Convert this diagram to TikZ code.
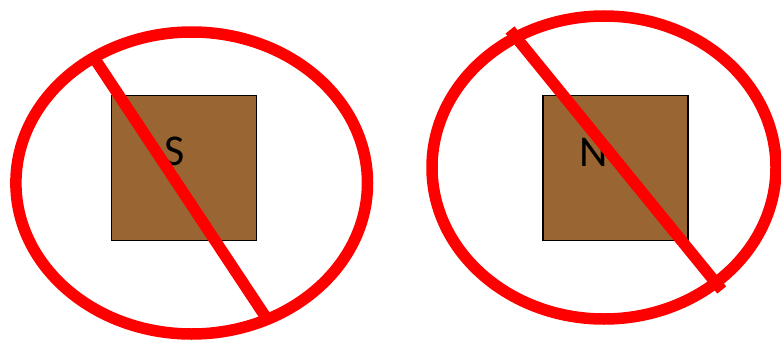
\documentclass[tikz,border=0pt]{standalone}
\usepackage{fontspec}
\setmainfont{Carlito}
\definecolor{magbrown}{HTML}{996633}
\definecolor{banred}{HTML}{FF0000}
\tikzset{
  magnet/.style={draw=black, line width=1.8pt, fill=magbrown, minimum width=145pt, minimum height=145pt, inner sep=0pt},
  pole/.style={font=\fontsize{44}{44}\selectfont, text=black, inner sep=0pt},
  banring/.style={draw=banred, line width=11.5pt},
  banbar/.style={draw=banred, line width=11.5pt, line cap=butt}
}
\begin{document}
\begin{tikzpicture}[x=1pt, y=-1pt]
  \useasboundingbox (0,0) rectangle (781,340);
  % left
  \draw[banring] (191.7,183) ellipse [x radius=175.8, y radius=151];
  \node[magnet] (sq1) at (184,168) {};
  \node[pole] (s) at (175,151) {S};
  \coordinate (l1a) at (95.5,60);
  \coordinate (l1b) at (269,322);
  \draw[banbar] (l1a) -- (l1b);
  % right
  \draw[banring] (604,167.5) ellipse [x radius=172, y radius=151.5];
  \node[magnet] (sq2) at (615.8,168) {};
  \node[pole] (n) at (594,152) {N};
  \coordinate (l2a) at (510,30);
  \coordinate (l2b) at (721.7,290);
  \draw[banbar] (l2a) -- (l2b);
\end{tikzpicture}
\end{document}
